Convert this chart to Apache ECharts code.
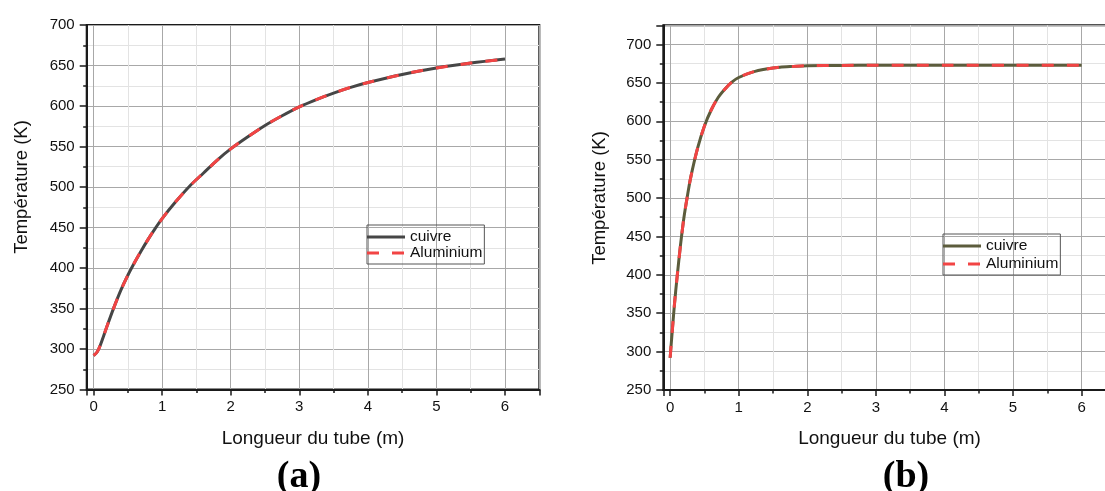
<!DOCTYPE html>
<html><head><meta charset="utf-8">
<script src="https://cdn.jsdelivr.net/npm/echarts@6/dist/echarts.min.js"></script>
<style>html,body{margin:0;padding:0;background:#fff}#c{width:1105px;height:491px}</style>
</head><body><div id="c"></div>
<script>
// (a) left panel
const xA = [0, 0.05, 0.1, 0.2, 0.3, 0.4, 0.5, 0.6, 0.7, 0.8, 0.9, 1.0, 1.2, 1.4, 1.6, 1.8, 2.0, 2.25, 2.5, 2.75, 3.0, 3.25, 3.5, 3.75, 4.0, 4.5, 5.0, 5.5, 6.0];
const cuivreA = [292, 296, 305, 329, 352, 373, 391, 407, 422, 436, 449, 461, 482, 501, 517, 533, 547, 562, 576, 588, 599, 608, 616, 623, 629, 639, 647, 653, 658];
const aluminiumA = [292, 296, 305, 329, 352, 373, 391, 407, 422, 436, 449, 461, 482, 501, 517, 533, 547, 562, 576, 588, 599, 608, 616, 623, 629, 639, 647, 653, 658];
// (b) right panel
const xB = [0, 0.01, 0.02, 0.04, 0.063, 0.1, 0.15, 0.2, 0.25, 0.3, 0.4, 0.5, 0.6, 0.7, 0.8, 0.9, 1.0, 1.2, 1.4, 1.6, 1.8, 2.0, 2.5, 3, 4, 5, 6];
const cuivreB = [292, 304, 315, 337, 362, 396, 438, 474, 502, 527, 565, 594, 615, 631, 642, 651, 657, 664, 668, 670.5, 671.5, 672.3, 672.8, 673, 673, 673, 673];
const aluminiumB = [292, 304, 315, 337, 362, 396, 438, 474, 502, 527, 565, 594, 615, 631, 642, 651, 657, 664, 668, 670.5, 671.5, 672.3, 672.8, 673, 673, 673, 673];
const seriesNames = ['cuivre', 'Aluminium'];
const xTitle = 'Longueur du tube (m)';
const yTitle = 'Température (K)';
const panelLabels = ['(a)', '(b)'];

const FONT = 'Liberation Sans';
const AX = '#1a1a1a';
const SOLID_ICON = 'path://M0,0H38V3H0Z';
const DASH_ICON = 'path://M0,0H12V3H0Z M25,0H37V3H25Z M37,0H38V0H37Z';
function pairs(xs, ys){ return xs.map((x,i)=>[x, ys[i]]); }
function xAxis(gi){
  return {type:'value', gridIndex:gi, min:-0.1, max:6.5, minInterval:1, maxInterval:1,
    axisLine:{show:true, onZero:false, lineStyle:{color:AX, width:2}},
    axisTick:{show:true, inside:false, length:6, lineStyle:{color:AX, width:1.5}},
    minorTick:{show:true, splitNumber:2, length:3.5, lineStyle:{color:AX, width:1.5}},
    axisLabel:{show:true, margin:10, color:'#111', fontSize:15, fontFamily:FONT, showMinLabel:false, showMaxLabel:false},
    splitLine:{show:true, lineStyle:{color:'#a8a8a8', width:1}},
    minorSplitLine:{show:true, lineStyle:{color:'#e3e3e3', width:1}}
  };
}
function yAxis(gi, max){
  return {type:'value', gridIndex:gi, min:250, max:max, minInterval:50, maxInterval:50,
    axisLine:{show:true, onZero:false, lineStyle:{color:AX, width:2}},
    axisTick:{show:true, inside:false, length:7, lineStyle:{color:AX, width:1.5}},
    minorTick:{show:true, splitNumber:2, length:3.5, lineStyle:{color:AX, width:1.5}},
    axisLabel:{show:true, margin:12, color:'#111', fontSize:15, fontFamily:FONT, showMaxLabel: max === 700},
    splitLine:{show:true, lineStyle:{color:'#a8a8a8', width:1}},
    minorSplitLine:{show:true, lineStyle:{color:'#e3e3e3', width:1}}
  };
}
function line(name, gi, xs, ys, color, dashed, z){
  return {type:'line', name:name, xAxisIndex:gi, yAxisIndex:gi, data:pairs(xs, ys),
    symbol:'none', showSymbol:false, smooth:0.3, z:z,
    lineStyle:{color:color, width:3, type: dashed ? [12,13] : 'solid', cap:'butt'},
    itemStyle:{color:color}};
}
function legend(names, left, top, gap){
  return {data:[{name:names[0], icon:SOLID_ICON}, {name:names[1], icon:DASH_ICON}],
    orient:'vertical', left:left, top:top, itemWidth:38, itemHeight:3, itemGap:gap,
    padding:[4,2,3,0], borderColor:'#555', borderWidth:1, selectedMode:false,
    itemStyle:{borderWidth:0},
    formatter: n => n.trim(),
    textStyle:{fontSize:15.5, fontFamily:FONT, color:'#111'}};
}
function txt(text, x, y, size, opts){
  return Object.assign({type:'text', x:x, y:y, silent:true,
    style:{text:text, fontSize:size, fontFamily:FONT, fill:'#111', align:'center', verticalAlign:'middle'}}, opts||{});
}

const chart = echarts.init(document.getElementById('c'), null, {renderer:'canvas'});
const RED = '#f24444';
chart.setOption({
  animation:false,
  backgroundColor:'#fff',
  grid:[
    {left:86.7, top:25, width:452.6, height:364.5, show:true, borderColor:AX, borderWidth:2, containLabel:false, outerBoundsMode:'none'},
    {left:663.3, top:25.3, width:452.6, height:364.7, show:true, borderColor:AX, borderWidth:2, containLabel:false, outerBoundsMode:'none'}
  ],
  xAxis:[xAxis(0), xAxis(1)],
  yAxis:[yAxis(0, 700), yAxis(1, 725)],
  legend:[
    legend([seriesNames[0], seriesNames[1]], 367, 225, 0),
    legend([seriesNames[0]+' ', seriesNames[1]+' '], 943, 234, 2)
  ],
  series:[
    line(seriesNames[0], 0, xA, cuivreA, '#464646', false, 2),
    line(seriesNames[1], 0, xA, aluminiumA, RED, true, 3),
    line(seriesNames[0]+' ', 1, xB, cuivreB, '#5c5c3c', false, 2),
    line(seriesNames[1]+' ', 1, xB, aluminiumB, RED, true, 3)
  ],
  graphic:[
    txt(yTitle, 22, 187, 18.5, {rotation:Math.PI/2}),
    txt(yTitle, 600, 198, 18.5, {rotation:Math.PI/2}),
    txt(xTitle, 313, 439, 19),
    txt(xTitle, 889.5, 439, 19),
    {type:'text', x:299, y:477, silent:true, style:{text:panelLabels[0], fontSize:38, fontWeight:'bold', fontFamily:'Liberation Serif', fill:'#000', align:'center', verticalAlign:'middle'}},
    {type:'text', x:906, y:477, silent:true, style:{text:panelLabels[1], fontSize:38, fontWeight:'bold', fontFamily:'Liberation Serif', fill:'#000', align:'center', verticalAlign:'middle'}}
  ]
});
</script></body></html>
